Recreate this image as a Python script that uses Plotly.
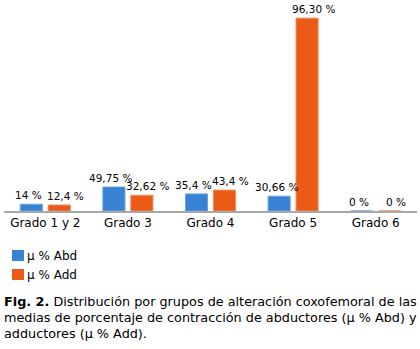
import plotly.graph_objects as go

categories = ["Grado 1 y 2", "Grado 3", "Grado 4", "Grado 5", "Grado 6"]
series_names = ["\u00b5 % Abd", "\u00b5 % Add"]
# bar heights as drawn in the picture (the 96,30 % bar is drawn much taller than its label)
abd_heights = [14, 49.75, 35.4, 30.66, 0]
add_heights = [12.4, 32.62, 43.4, 400, 0]
abd_labels = ["14 %", "49,75 %", "35,4 %", "30,66 %", "0 %"]
add_labels = ["12,4 %", "32,62 %", "43,4 %", "96,30 %", "0 %"]
colors = ["#3782d2", "#eb5a17"]
edge_colors = ["#6aa3e0", "#f08a55"]
label_xshift = [-3, 6]

FONT = "DejaVu Sans, Verdana, sans-serif"
BARGAP = 0.323
slot = (1 - BARGAP) / 2
offsets = [-slot / 2, slot / 2]

fig = go.Figure()
for k, (name, h, c, ec) in enumerate(zip(series_names, [abd_heights, add_heights],
                                         colors, edge_colors)):
    fig.add_trace(go.Bar(
        x=list(range(len(categories))), y=h, name=name,
        marker=dict(color=c, line=dict(color=ec, width=1)),
        showlegend=False,
    ))

# value labels above bars
for k, (h, lab) in enumerate(zip([abd_heights, add_heights], [abd_labels, add_labels])):
    for i, (v, t) in enumerate(zip(h, lab)):
        fig.add_annotation(x=i + offsets[k], y=v, xref="x", yref="y", text=t,
                           showarrow=False, xanchor="center", yanchor="bottom",
                           xshift=label_xshift[k], yshift=1,
                           font=dict(family=FONT, size=10.5, color="#000"))

fig.update_layout(
    width=420, height=349,
    margin=dict(l=4, r=3, t=0, b=138),
    paper_bgcolor="white", plot_bgcolor="white",
    barmode="group", bargap=BARGAP, bargroupgap=0.21,
    font=dict(family=FONT, size=12, color="#000"),
)
fig.update_xaxes(showline=True, linecolor="#a8a8a8", linewidth=2, ticks="",
                 tickmode="array", tickvals=list(range(len(categories))),
                 ticktext=categories,
                 tickfont=dict(family=FONT, size=12, color="#000"),
                 showgrid=False, zeroline=False, range=[-0.5, 4.5])
fig.update_yaxes(visible=False, range=[0, 437.7], showgrid=False, zeroline=False)

# legend drawn manually
for i, (name, c) in enumerate(zip(series_names, colors)):
    y0 = 250 + i * 19
    fig.add_shape(type="rect", xref="paper", yref="paper",
                  x0=(12 - 4) / 413, x1=(24 - 4) / 413,
                  y0=(211 - y0 - 11) / 211, y1=(211 - y0) / 211,
                  fillcolor=c, line=dict(width=0))
    fig.add_annotation(xref="paper", yref="paper", x=(25 - 4) / 413,
                       y=(211 - y0 - 5.5) / 211, text=name, showarrow=False,
                       xanchor="left", yanchor="middle",
                       font=dict(family=FONT, size=12, color="#000"))

caption_lines = [
    "<b>Fig. 2.</b> Distribución por grupos de alteración coxofemoral de las",
    "medias de porcentaje de contracción de abductores (µ % Abd) y",
    "adductores (µ % Add).",
]
for i, line in enumerate(caption_lines):
    yc = 301 + i * 16
    fig.add_annotation(xref="paper", yref="paper", x=(2 - 4) / 413,
                       y=(211 - yc) / 211, text=line, showarrow=False,
                       xanchor="left", yanchor="middle",
                       font=dict(family=FONT, size=12.8, color="#000"))

fig.write_html("out.html")
